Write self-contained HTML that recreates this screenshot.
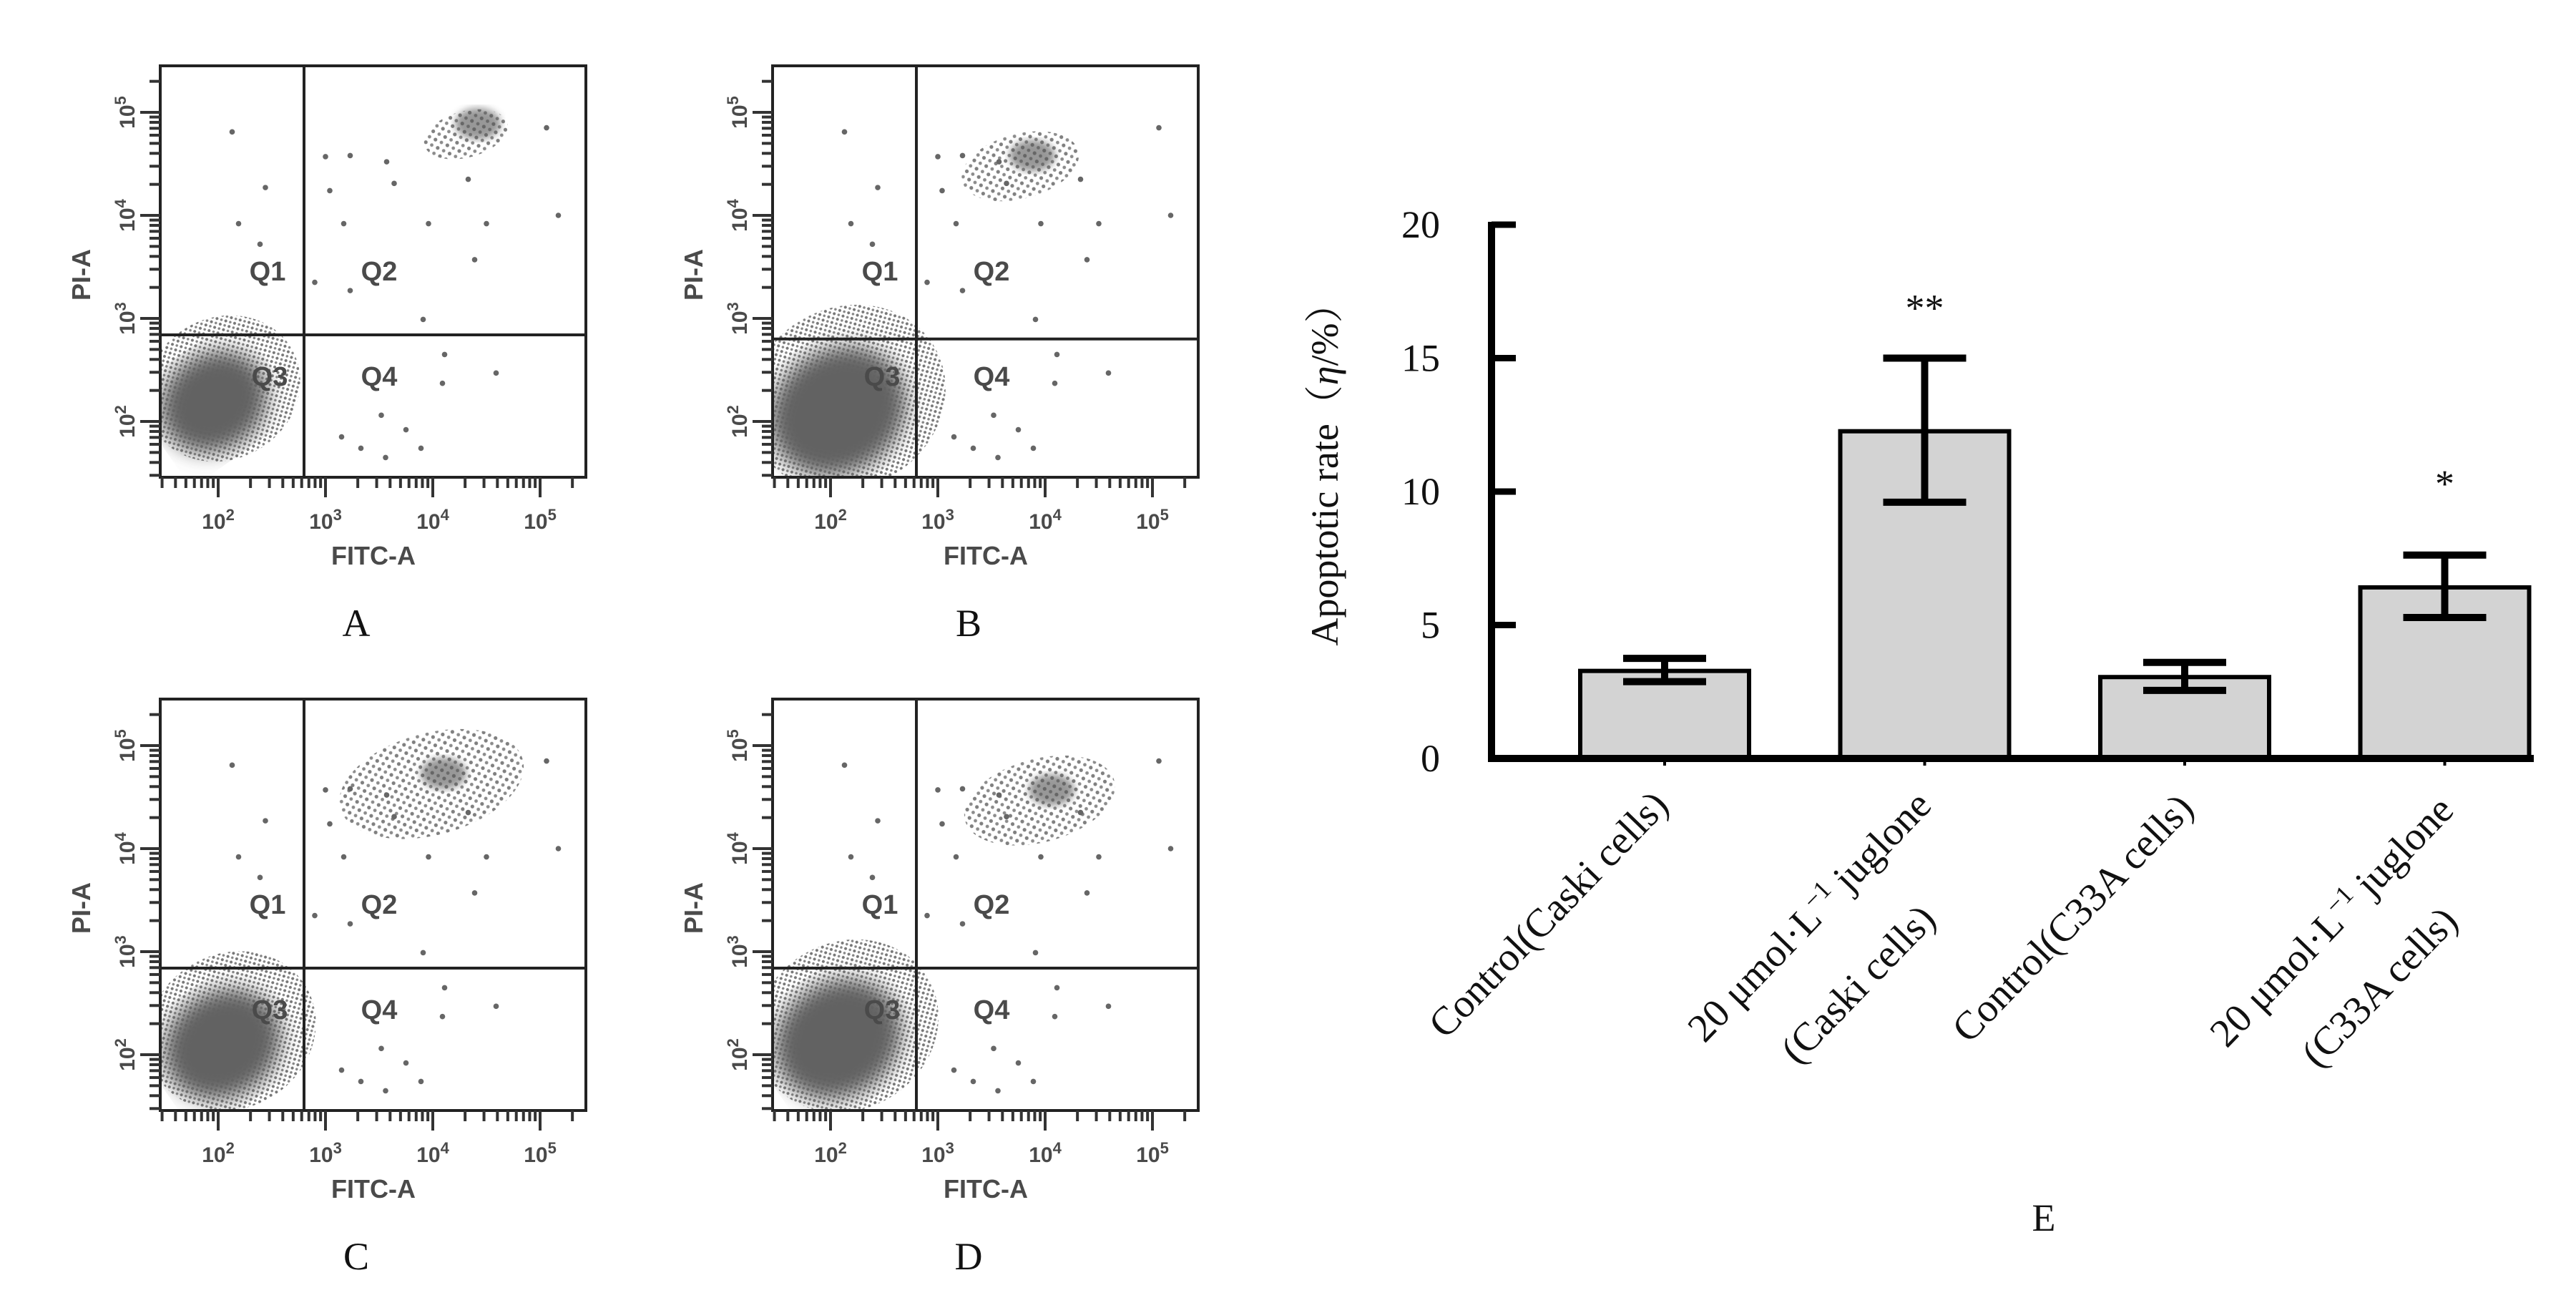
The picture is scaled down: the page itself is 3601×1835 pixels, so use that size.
<!DOCTYPE html>
<html><head><meta charset="utf-8"><style>
html,body{margin:0;padding:0;background:#fff;}
svg{display:block;}
.fl{font-family:"Liberation Sans",sans-serif;font-weight:bold;fill:#4a4a4a;}
.sr{font-family:"Liberation Serif","Noto Serif CJK SC",serif;fill:#111;}
</style></head><body>
<svg id="root" width="3601" height="1835" viewBox="0 0 3601 1835" xmlns="http://www.w3.org/2000/svg">
<defs>
<pattern id="dots" width="9" height="9" patternUnits="userSpaceOnUse"><circle cx="2" cy="2" r="2" fill="#555"/><circle cx="6.5" cy="6.5" r="1.8" fill="#666"/></pattern>
<pattern id="dots2" width="14" height="12" patternUnits="userSpaceOnUse"><circle cx="3" cy="3" r="2.6" fill="#555"/><circle cx="10" cy="9" r="2.4" fill="#666"/></pattern>
<filter id="blur"><feGaussianBlur stdDeviation="14"/></filter>
<filter id="blur2"><feGaussianBlur stdDeviation="5"/></filter>
</defs>
<g id="flow"></g>
<g id="bars"></g>
</svg>
<script>
const NS="http://www.w3.org/2000/svg";
function mk(tag,attrs,parent,txt){const e=document.createElementNS(NS,tag);for(const k in attrs)e.setAttribute(k,attrs[k]);if(txt!==undefined)e.textContent=txt;parent.appendChild(e);return e;}

/* ---------- Flow cytometry panels ---------- */
const panelNames=["A","B","C","D"];
const quadX=[2.8,2.8,2.8,2.8];
const quadY=[2.84,2.8,2.84,2.84];
const q3CenterX=[1.96,2.07,2.04,2.07];
const q3CenterY=[2.19,2.1,2.1,2.15];
const q3Spread=[0.55,0.7,0.6,0.65];
const q2CenterX=[4.42,3.88,4.1,4.06];
const q2CenterY=[4.89,4.58,4.73,4.57];
const q2Spread=[0.25,0.35,0.55,0.45];
const sparseX=[2.13,2.44,2.19,2.39,3.0,3.23,3.57,3.04,3.17,3.64,3.96,4.33,4.39,4.5,5.17,5.06,2.9,3.23,3.91,4.11,4.09,4.59,3.52,3.33,3.56,3.89,3.15,3.75];
const sparseY=[4.81,4.27,3.92,3.72,4.57,4.58,4.52,4.24,3.92,4.31,3.92,4.35,3.57,3.92,4.0,4.85,3.35,3.27,2.99,2.65,2.37,2.47,2.06,1.74,1.65,1.74,1.85,1.92];
const ticksDec=[2,3,4,5];

const flow=document.getElementById('flow');
const origins=[[224,92],[1080,92],[224,977],[1080,977]];
const BW=595,BH=575;
origins.forEach((o,pi)=>{
  const [ox,oy]=o;
  const g=mk('g',{transform:`translate(${ox},${oy})`},flow);
  
  
  const sx=v=>81+(v-2)*150;
  const sy=v=>497-(v-2)*144;
  const cp=mk('clipPath',{id:'clip'+pi},g);
  mk('rect',{x:0,y:0,width:BW,height:BH},cp);
  const plot=mk('g',{'clip-path':`url(#clip${pi})`},g);
  const cx=sx(q3CenterX[pi]),cy=sy(q3CenterY[pi]),s=q3Spread[pi];
  const halo=mk('ellipse',{cx:cx+20,cy:cy-10,rx:s*150*1.35,ry:s*144*1.25,fill:'url(#dots)',opacity:0.8,transform:`rotate(-30 ${cx} ${cy})`},plot);
  
  
  const core=mk('ellipse',{cx:cx,cy:cy,rx:s*150*0.95,ry:s*144*0.85,fill:'#626262',filter:'url(#blur)',transform:`rotate(-35 ${cx} ${cy})`},plot);
  
  
  const qx=sx(q2CenterX[pi]),qy=sy(q2CenterY[pi]),q=q2Spread[pi];
  const q2h=mk('ellipse',{cx:qx-20,cy:qy+10,rx:q*150*1.6,ry:q*144*0.9,fill:'url(#dots2)',opacity:0.75,transform:`rotate(-15 ${qx} ${qy})`},plot);
  
  
  const q2c=mk('ellipse',{cx:qx,cy:qy,rx:32,ry:22,fill:'#555',opacity:0.6,filter:'url(#blur2)'},plot);
  
  
  sparseX.forEach((v,i)=>{
    const d=mk('circle',{cx:sx(v),cy:sy(sparseY[i]),r:3.8,fill:'#666'},plot);
    
    
  });
  const box=mk('rect',{x:0,y:0,width:BW,height:BH,fill:'none',stroke:'#222','stroke-width':4},g);
  
  
  const vl=mk('line',{x1:sx(quadX[pi]),x2:sx(quadX[pi]),y1:0,y2:BH,stroke:'#222','stroke-width':4},g);
  
  
  const hl=mk('line',{x1:0,x2:BW,y1:sy(quadY[pi]),y2:sy(quadY[pi]),stroke:'#222','stroke-width':4},g);
  
  
  const qlx=[150,306,153,306],qly=[300,300,447,447];
  ["Q1","Q2","Q3","Q4"].forEach((t,i)=>{
    const tt=mk('text',{x:qlx[i],y:qly[i],'text-anchor':'middle','font-size':38,class:'fl'},g,t);
    
    
  });
  for(let d=1;d<=5;d++){for(let m=1;m<=9;m++){
    const v=d+Math.log10(m);
    const len=m===1?28:15;
    if(v>1.46&&v<5.43){mk('line',{x1:sx(v),x2:sx(v),y1:BH,y2:BH+len,stroke:'#333','stroke-width':4},g);}
    if(v>1.46&&v<5.45){mk('line',{x1:-len,x2:0,y1:sy(v),y2:sy(v),stroke:'#333','stroke-width':4},g);}
  }}
  ticksDec.forEach(d=>{
    const tx=mk('text',{x:sx(d),y:BH+72,'text-anchor':'middle','font-size':30,class:'fl'},g);
    
    
    mk('tspan',{},tx,'10');mk('tspan',{dy:-12,'font-size':22},tx,String(d));
    const ty=mk('text',{x:0,y:0,'text-anchor':'middle','font-size':30,class:'fl',transform:`translate(-36,${sy(d)}) rotate(-90)`},g);
    
    
    mk('tspan',{},ty,'10');mk('tspan',{dy:-12,'font-size':22},ty,String(d));
  });
  const xt=mk('text',{x:298,y:BH+122,'text-anchor':'middle','font-size':36,class:'fl'},g,'FITC-A');
  
  
  const yt=mk('text',{x:0,y:0,'text-anchor':'middle','font-size':36,class:'fl',transform:`translate(-98,292) rotate(-90)`},g,'PI-A');
  
  
  const pl=mk('text',{x:274,y:BH+222,'text-anchor':'middle','font-size':54,class:'sr'},g,panelNames[pi]);
  
  
});

/* ---------- Bar chart E ---------- */
const categories=["Control(Caski cells)","20 μmol·L−1 juglone (Caski cells)","Control(C33A cells)","20 μmol·L−1 juglone (C33A cells)"];
const values=[3.28,12.26,3.05,6.41];
const errHigh=[3.75,15.0,3.6,7.62];
const errLow=[2.88,9.6,2.55,5.28];
const stars=["","**","","*"];
const yTicks=[0,5,10,15,20];

const bars=document.getElementById('bars');
const X0=2085,Y0=1060,YTOP=314,AXEND=3542;
const yScale=v=>Y0-(v/20)*(Y0-YTOP);
const step=363.5,firstC=2327;
const xScale=i=>firstC+i*step;
const BWID=236;

values.forEach((v,i)=>{
  const c=xScale(i);
  const r=mk('rect',{x:c-BWID/2,y:yScale(v),width:BWID,height:Y0-yScale(v),fill:'#d3d3d3',stroke:'#000','stroke-width':6},bars);
  
  
  const eg=mk('g',{stroke:'#000','stroke-width':10},bars);
  
  
  mk('line',{x1:c,x2:c,y1:yScale(errHigh[i]),y2:yScale(errLow[i])},eg);
  mk('line',{x1:c-58,x2:c+58,y1:yScale(errHigh[i]),y2:yScale(errHigh[i])},eg);
  mk('line',{x1:c-58,x2:c+58,y1:yScale(errLow[i]),y2:yScale(errLow[i])},eg);
  if(stars[i]){
    const st=mk('text',{x:c,y:yScale(errHigh[i])-(i===1?52:82),'text-anchor':'middle','font-size':54,class:'sr'},bars,stars[i]);
    
    
  }
});
const ya=mk('line',{x1:X0,x2:X0,y1:YTOP-4,y2:Y0+5,stroke:'#000','stroke-width':10},bars);


const xa=mk('line',{x1:X0-5,x2:AXEND,y1:Y0,y2:Y0,stroke:'#000','stroke-width':10},bars);


yTicks.forEach(t=>{
  mk('line',{x1:X0,x2:X0+34,y1:yScale(t),y2:yScale(t),stroke:'#000','stroke-width':9},bars);
  const tl=mk('text',{x:2013,y:yScale(t)+18,'text-anchor':'end','font-size':54,class:'sr'},bars,String(t));
  
  
});
values.forEach((v,i)=>{mk('line',{x1:xScale(i),x2:xScale(i),y1:Y0,y2:Y0+10,stroke:'#000','stroke-width':4},bars);});

const ytitle=mk('text',{x:0,y:0,'text-anchor':'middle','font-size':54,class:'sr',transform:'translate(1870,650) rotate(-90)'},bars);


mk('tspan',{},ytitle,'Apoptotic rate（');mk('tspan',{'font-style':'italic'},ytitle,'η');mk('tspan',{},ytitle,'/%）');

function xlabel(parts,x,y){
  const t=mk('text',{x:x,y:y,'text-anchor':'end','font-size':56,class:'sr',transform:`rotate(-46 ${x} ${y})`},bars);
  
  
  parts.forEach(p=>{
    if(typeof p==='object'){mk('tspan',{dy:-20,'font-size':36},t,p.txt);mk('tspan',{dy:20},t,' ');}
    else mk('tspan',{},t,p);
  });
}
xlabel(["Control(Caski cells)"],xScale(0)+8,1128);
xlabel(["20 μmol·L",{txt:"−1"},"juglone"],xScale(1)+12,1128);
xlabel(["(Caski cells)"],xScale(1)+18,1287);
xlabel(["Control(C33A cells)"],xScale(2)+15,1132);
xlabel(["20 μmol·L",{txt:"−1"},"juglone"],xScale(3)+15,1135);
xlabel(["(C33A cells)"],xScale(3)+21,1290);

const el=mk('text',{x:2857,y:1720,'text-anchor':'middle','font-size':54,class:'sr'},bars,'E');


</script>
</body></html>
